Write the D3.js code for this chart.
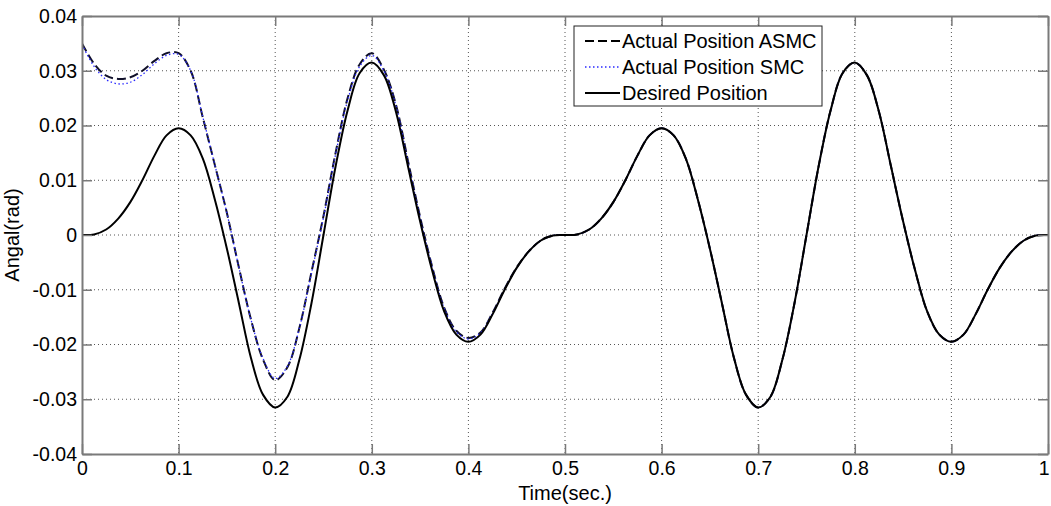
<!DOCTYPE html>
<html>
<head>
<meta charset="utf-8">
<script src="https://cdn.jsdelivr.net/npm/d3@7"></script>
<style>
  html, body { margin: 0; padding: 0; background: #fff; }
  svg { display: block; font-family: "Liberation Sans", Arial, sans-serif; }
</style>
</head>
<body>
<svg id="chart" width="1051" height="506"></svg>
<script>
// Sample times (s)
const timeSec = [
  0.0000, 0.0125, 0.0250, 0.0375, 0.0500, 0.0625, 0.0750, 0.0875, 0.1000,
  0.1125, 0.1250, 0.1375, 0.1500, 0.1625, 0.1750, 0.1875, 0.2000,
  0.2125, 0.2250, 0.2375, 0.2500, 0.2625, 0.2750, 0.2875, 0.3000,
  0.3125, 0.3250, 0.3375, 0.3500, 0.3625, 0.3750, 0.3875, 0.4000,
  0.4125, 0.4250, 0.4375, 0.4500, 0.4625, 0.4750, 0.4875, 0.5000,
  0.5125, 0.5250, 0.5375, 0.5500, 0.5625, 0.5750, 0.5875, 0.6000,
  0.6125, 0.6250, 0.6375, 0.6500, 0.6625, 0.6750, 0.6875, 0.7000,
  0.7125, 0.7250, 0.7375, 0.7500, 0.7625, 0.7750, 0.7875, 0.8000,
  0.8125, 0.8250, 0.8375, 0.8500, 0.8625, 0.8750, 0.8875, 0.9000,
  0.9125, 0.9250, 0.9375, 0.9500, 0.9625, 0.9750, 0.9875, 1.0000
];

// Desired position (rad)
const desiredPos = [
  0.0000, 0.0001, 0.0010, 0.0030, 0.0060, 0.0100, 0.0145, 0.0182, 0.0195,
  0.0182, 0.0140, 0.0065, -0.0025, -0.0125, -0.0225, -0.0292, -0.0315,
  -0.0296, -0.0228, -0.0125, 0.0000, 0.0125, 0.0228, 0.0296, 0.0315,
  0.0292, 0.0225, 0.0125, 0.0025, -0.0065, -0.0140, -0.0182, -0.0195,
  -0.0182, -0.0145, -0.0100, -0.0060, -0.0030, -0.0010, -0.0001, 0.0000,
  0.0001, 0.0010, 0.0030, 0.0060, 0.0100, 0.0145, 0.0182, 0.0195,
  0.0182, 0.0140, 0.0065, -0.0025, -0.0125, -0.0225, -0.0292, -0.0315,
  -0.0296, -0.0228, -0.0125, 0.0000, 0.0125, 0.0228, 0.0296, 0.0315,
  0.0292, 0.0225, 0.0125, 0.0025, -0.0065, -0.0140, -0.0182, -0.0195,
  -0.0182, -0.0145, -0.0100, -0.0060, -0.0030, -0.0010, -0.0001, 0.0000
];

// Actual position with ASMC (rad)
const asmcPos = [
  0.0350, 0.0313, 0.0291, 0.0285, 0.0288, 0.0300, 0.0318, 0.0332, 0.0332,
  0.0300, 0.0215, 0.0128, 0.0040, -0.0060, -0.0155, -0.0228, -0.0265,
  -0.0242, -0.0170, -0.0068, 0.0035, 0.0150, 0.0250, 0.0312, 0.0332,
  0.0302, 0.0238, 0.0135, 0.0033, -0.0058, -0.0133, -0.0175, -0.0188,
  -0.0178, -0.0142, -0.0098, -0.0059, -0.0030, -0.0010, -0.0001, 0.0000,
  0.0001, 0.0010, 0.0030, 0.0060, 0.0100, 0.0145, 0.0182, 0.0195,
  0.0182, 0.0140, 0.0065, -0.0025, -0.0125, -0.0225, -0.0292, -0.0315,
  -0.0296, -0.0228, -0.0125, 0.0000, 0.0125, 0.0228, 0.0296, 0.0315,
  0.0292, 0.0225, 0.0125, 0.0025, -0.0065, -0.0140, -0.0182, -0.0195,
  -0.0182, -0.0145, -0.0100, -0.0060, -0.0030, -0.0010, -0.0001, 0.0000
];

// Actual position with SMC (rad)
const smcPos = [
  0.0348, 0.0308, 0.0284, 0.0276, 0.0279, 0.0293, 0.0313, 0.0328, 0.0330,
  0.0300, 0.0216, 0.0128, 0.0040, -0.0060, -0.0155, -0.0226, -0.0262,
  -0.0240, -0.0170, -0.0070, 0.0032, 0.0147, 0.0246, 0.0308, 0.0328,
  0.0300, 0.0236, 0.0133, 0.0032, -0.0059, -0.0134, -0.0177, -0.0190,
  -0.0179, -0.0143, -0.0099, -0.0060, -0.0030, -0.0010, -0.0001, 0.0000,
  0.0001, 0.0010, 0.0030, 0.0060, 0.0100, 0.0145, 0.0182, 0.0195,
  0.0182, 0.0140, 0.0065, -0.0025, -0.0125, -0.0225, -0.0292, -0.0315,
  -0.0296, -0.0228, -0.0125, 0.0000, 0.0125, 0.0228, 0.0296, 0.0315,
  0.0292, 0.0225, 0.0125, 0.0025, -0.0065, -0.0140, -0.0182, -0.0195,
  -0.0182, -0.0145, -0.0100, -0.0060, -0.0030, -0.0010, -0.0001, 0.0000
];

const xTicks = [0, 0.1, 0.2, 0.3, 0.4, 0.5, 0.6, 0.7, 0.8, 0.9, 1];
const xTickLabels = ["0", "0.1", "0.2", "0.3", "0.4", "0.5", "0.6", "0.7", "0.8", "0.9", "1"];
const yTicks = [-0.04, -0.03, -0.02, -0.01, 0, 0.01, 0.02, 0.03, 0.04];
const yTickLabels = ["-0.04", "-0.03", "-0.02", "-0.01", "0", "0.01", "0.02", "0.03", "0.04"];

const seriesNames = ["Actual Position ASMC", "Actual Position SMC", "Desired Position"];

// Layout
const plot = { left: 82, right: 1048, top: 16, bottom: 454 };
const svg = d3.select("#chart");

const x = d3.scaleLinear().domain([0, 1]).range([plot.left, plot.right]);
const y = d3.scaleLinear().domain([-0.04, 0.04]).range([plot.bottom, plot.top]);

// Grid
const grid = svg.append("g");
grid.selectAll("line.gx").data(xTicks.slice(1, -1)).join("line")
  .attr("x1", d => x(d)).attr("x2", d => x(d))
  .attr("y1", plot.top).attr("y2", plot.bottom)
  .attr("stroke", "#555").attr("stroke-width", 1).attr("stroke-dasharray", "1,3");
grid.selectAll("line.gy").data(yTicks.slice(1, -1)).join("line")
  .attr("y1", d => y(d)).attr("y2", d => y(d))
  .attr("x1", plot.left).attr("x2", plot.right)
  .attr("stroke", "#555").attr("stroke-width", 1).attr("stroke-dasharray", "1,3");

// Curves
svg.append("clipPath").attr("id", "plotclip").append("rect")
  .attr("x", plot.left).attr("y", plot.top)
  .attr("width", plot.right - plot.left).attr("height", plot.bottom - plot.top);

const makeLine = vals => d3.line()
  .x((d, i) => x(timeSec[i]))
  .y(d => y(d))
  .curve(d3.curveCatmullRom.alpha(0.5))(vals);

const curves = svg.append("g").attr("clip-path", "url(#plotclip)");
curves.append("path").attr("d", makeLine(asmcPos))
  .attr("fill", "none").attr("stroke", "#10102a").attr("stroke-width", 2)
  .attr("stroke-dasharray", "9,4");
curves.append("path").attr("d", makeLine(smcPos))
  .attr("fill", "none").attr("stroke", "#2a2aff").attr("stroke-width", 1.3)
  .attr("stroke-dasharray", "1.5,2.5");
curves.append("path").attr("d", makeLine(desiredPos))
  .attr("fill", "none").attr("stroke", "#000").attr("stroke-width", 2);

// Axes (box with inward ticks on all sides)
const axisColor = "#7a7a7a";
const tickLen = 10;
const fmtX = d => xTickLabels[xTicks.indexOf(d)];
const fmtY = d => yTickLabels[yTicks.indexOf(d)];

const gBottom = svg.append("g").attr("transform", `translate(0,${plot.bottom})`)
  .call(d3.axisBottom(x).tickValues(xTicks).tickFormat(fmtX).tickSizeInner(-tickLen).tickSizeOuter(0).tickPadding(7));
const gLeft = svg.append("g").attr("transform", `translate(${plot.left},0)`)
  .call(d3.axisLeft(y).tickValues(yTicks).tickFormat(fmtY).tickSizeInner(-tickLen).tickSizeOuter(0).tickPadding(5));
const gTop = svg.append("g").attr("transform", `translate(0,${plot.top})`)
  .call(d3.axisTop(x).tickValues(xTicks).tickFormat("").tickSizeInner(-tickLen).tickSizeOuter(0));
const gRight = svg.append("g").attr("transform", `translate(${plot.right},0)`)
  .call(d3.axisRight(y).tickValues(yTicks).tickFormat("").tickSizeInner(-tickLen).tickSizeOuter(0));

[gBottom, gLeft, gTop, gRight].forEach(g => {
  g.select(".domain").attr("stroke", axisColor).attr("stroke-width", 2);
  g.selectAll(".tick line").attr("stroke", axisColor).attr("stroke-width", 1.5);
  g.selectAll(".tick text").attr("fill", "#000").attr("font-size", "19.5px")
    .attr("font-family", "'Liberation Sans', Arial, sans-serif");
});
// keep the last x label inside the page
gBottom.selectAll(".tick text").filter(d => d === 1).attr("text-anchor", "end").attr("dx", "0.05em");

// Axis titles
svg.append("text").attr("x", 565).attr("y", 500)
  .attr("text-anchor", "middle").attr("font-size", "20px").text("Time(sec.)");
svg.append("text")
  .attr("transform", `translate(19,${(plot.top + plot.bottom) / 2}) rotate(-90)`)
  .attr("text-anchor", "middle").attr("font-size", "20px").text("Angal(rad)");

// Legend
const legend = svg.append("g");
legend.append("rect").attr("x", 574).attr("y", 26).attr("width", 248).attr("height", 80)
  .attr("fill", "#fff").attr("stroke", "#222").attr("stroke-width", 1);
const legendStyles = [
  { stroke: "#000", width: 2, dash: "9,4" },
  { stroke: "#2a2aff", width: 1.3, dash: "1.5,2.5" },
  { stroke: "#000", width: 2, dash: null }
];
seriesNames.forEach((name, i) => {
  const cy = 41 + i * 26;
  const st = legendStyles[i];
  legend.append("line").attr("x1", 585).attr("x2", 620).attr("y1", cy).attr("y2", cy)
    .attr("stroke", st.stroke).attr("stroke-width", st.width)
    .attr("stroke-dasharray", st.dash);
  legend.append("text").attr("x", 622).attr("y", cy).attr("dy", "0.36em")
    .attr("font-size", "20px").text(name);
});
</script>
</body>
</html>
